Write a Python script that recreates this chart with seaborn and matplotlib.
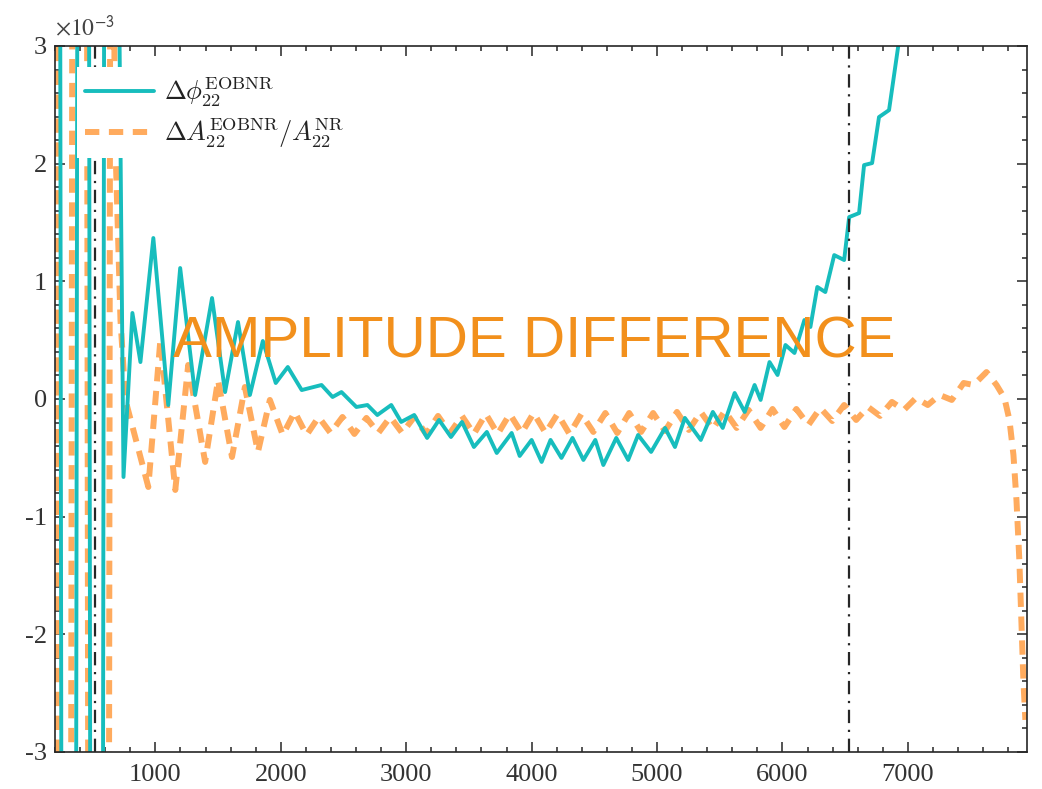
import numpy as np
import pandas as pd
import seaborn as sns
import matplotlib.pyplot as plt
from matplotlib.ticker import MultipleLocator, FuncFormatter
from matplotlib.font_manager import FontProperties

# ---- data (y values in units of 1e-3) ----
t_phi = [200, 230, 262, 357, 389, 460, 492, 571, 603, 698,
         746, 817, 881, 984, 1103, 1198, 1317, 1452, 1556, 1659,
         1754, 1857, 1960, 2056, 2167, 2325, 2413, 2484, 2603, 2691,
         2770, 2881, 2960, 3064, 3167, 3262, 3357, 3445, 3540, 3643,
         3722, 3841, 3905, 4000, 4080, 4151, 4238, 4326, 4413, 4508,
         4572, 4675, 4770, 4849, 4953, 5064, 5143, 5222, 5349, 5445,
         5524, 5619, 5699, 5778, 5826, 5897, 5961, 6024, 6096, 6175,
         6223, 6278, 6342, 6413, 6492, 6532, 6611, 6651, 6715, 6770,
         6850, 6953]
dphi = [12, 12, -12, -12, 12, 12, -12, -12, 12, 5,
        -0.663, 0.731, 0.314, 1.368, -0.051, 1.113, 0.034, 0.858, 0.059, 0.654,
        0.034, 0.493, 0.136, 0.272, 0.076, 0.119, 0.017, 0.059, -0.068, -0.051,
        -0.136, -0.051, -0.195, -0.136, -0.331, -0.178, -0.323, -0.195, -0.408, -0.280,
        -0.459, -0.289, -0.484, -0.348, -0.535, -0.348, -0.501, -0.331, -0.518, -0.348,
        -0.561, -0.331, -0.518, -0.306, -0.450, -0.246, -0.408, -0.161, -0.348, -0.110,
        -0.246, 0.051, -0.110, 0.119, -0.008, 0.314, 0.204, 0.459, 0.391, 0.671,
        0.612, 0.952, 0.909, 1.223, 1.181, 1.546, 1.580, 1.988, 2.005, 2.396,
        2.455, 3.220]

t_amp = [200, 238, 317, 349, 444, 476, 619, 651, 675, 722,
         762, 944, 1040, 1159, 1262, 1397, 1500, 1611, 1714, 1818,
         1913, 2016, 2111, 2206, 2302, 2397, 2492, 2587, 2683, 2778,
         2873, 2968, 3064, 3159, 3254, 3349, 3445, 3540, 3635, 3730,
         3826, 3921, 4016, 4111, 4207, 4302, 4397, 4492, 4588, 4683,
         4778, 4873, 4969, 5064, 5159, 5254, 5349, 5445, 5540, 5635,
         5730, 5826, 5921, 6016, 6111, 6207, 6302, 6397, 6492, 6588,
         6683, 6778, 6873, 6969, 7064, 7159, 7254, 7350, 7445, 7524,
         7627, 7707, 7770, 7810, 7842, 7866, 7889, 7905, 7921, 7937]
damp = [12, -12, -12, 12, 12, -12, -12, 12, 2.4, 0.67,
        -0.01, -0.748, 0.501, -0.773, 0.289, -0.535, 0.161, -0.493, 0.102, -0.450,
        -0.008, -0.306, -0.110, -0.306, -0.153, -0.289, -0.153, -0.297, -0.161, -0.289,
        -0.153, -0.289, -0.153, -0.297, -0.144, -0.289, -0.144, -0.297, -0.127, -0.297,
        -0.127, -0.289, -0.119, -0.289, -0.127, -0.297, -0.127, -0.280, -0.119, -0.289,
        -0.119, -0.280, -0.119, -0.272, -0.110, -0.263, -0.110, -0.255, -0.102, -0.246,
        -0.093, -0.246, -0.085, -0.238, -0.085, -0.221, -0.076, -0.187, -0.051, -0.178,
        -0.068, -0.144, -0.025, -0.093, 0.008, -0.051, 0.034, -0.008, 0.136, 0.119,
        0.229, 0.119, 0.008, -0.178, -0.476, -0.858, -1.368, -1.878, -2.387, -2.727]

t_markers = [520, 6532]

phi_label = r'$\Delta\phi_{22}^{\mathrm{EOBNR}}$'
amp_label = r'$\Delta A_{22}^{\mathrm{EOBNR}}/A_{22}^{\mathrm{NR}}$'
title_text = 'AMPLITUDE DIFFERENCE'
y_scale_text = r'$\times 10^{\mathsf{-3}}$'

TEAL = '#17BDBD'
ORANGE = '#FFAB5E'
TITLE_ORANGE = '#F2901C'
AXIS = '#262626'

sns.set_theme(style='ticks')
plt.rcParams['font.family'] = ['Liberation Serif', 'DejaVu Serif']
plt.rcParams['mathtext.fontset'] = 'stix'
plt.rcParams['axes.unicode_minus'] = False

fig = plt.figure(figsize=(10.42, 7.89), dpi=100)
ax = fig.add_axes([0.0528, 0.0469, 0.9328, 0.8948])

df_amp = pd.DataFrame({'t': t_amp, 'v': np.array(damp) * 1e-3})
df_phi = pd.DataFrame({'t': t_phi, 'v': np.array(dphi) * 1e-3})

sns.lineplot(data=df_amp, x='t', y='v', ax=ax, color=ORANGE, linewidth=4.3,
             linestyle=(0, (2.4, 1.6)), estimator=None, sort=False)
sns.lineplot(data=df_phi, x='t', y='v', ax=ax, color=TEAL, linewidth=2.8,
             estimator=None, sort=False)
amp_line, phi_line = ax.lines[0], ax.lines[1]

for tm in t_markers:
    ax.axvline(tm, color=AXIS, linewidth=1.6, linestyle=(0, (6, 3, 1, 3)), zorder=3)

ax.set_xlim(200, 7950)
ax.set_ylim(-3e-3, 3e-3)
ax.set_xlabel('')
ax.set_ylabel('')

ax.set_xticks(np.arange(1000, 8000, 1000))
ax.xaxis.set_minor_locator(MultipleLocator(200))
ax.yaxis.set_major_locator(MultipleLocator(1e-3))
ax.yaxis.set_minor_locator(MultipleLocator(2e-4))
ax.yaxis.set_major_formatter(FuncFormatter(lambda v, p: f'{round(v / 1e-3):d}'))
ax.text(0.0, 1.008, y_scale_text, transform=ax.transAxes, ha='left', va='bottom',
        fontsize=17, color='#444444')

ax.tick_params(which='both', direction='in', top=True, right=True,
               color=AXIS, width=1.1, labelsize=19, labelcolor='#333333')
ax.tick_params(which='major', length=7)
ax.tick_params(which='minor', length=3.5)
ax.tick_params(axis='x', which='major', pad=9)
ax.tick_params(axis='y', which='major', pad=6)
for s in ax.spines.values():
    s.set_color(AXIS)
    s.set_linewidth(1.2)
    s.set_visible(True)

leg = ax.legend(handles=[phi_line, amp_line], labels=[phi_label, amp_label],
                loc='upper left', bbox_to_anchor=(0.023, 0.97), borderaxespad=0,
                frameon=True, facecolor='white', edgecolor='none', framealpha=1,
                fancybox=False, handlelength=2.6, handletextpad=0.4,
                borderpad=0.3, labelspacing=0.25,
                prop=FontProperties(family='Liberation Serif', size=19, math_fontfamily='cm'))
for txt in leg.get_texts():
    txt.set_color('#222222')

fig.text(0.513, 1 - 358 / 789, title_text, color=TITLE_ORANGE, fontsize=42,
         family='Liberation Sans', ha='center', va='baseline')

fig.savefig('out.png', dpi=100)
